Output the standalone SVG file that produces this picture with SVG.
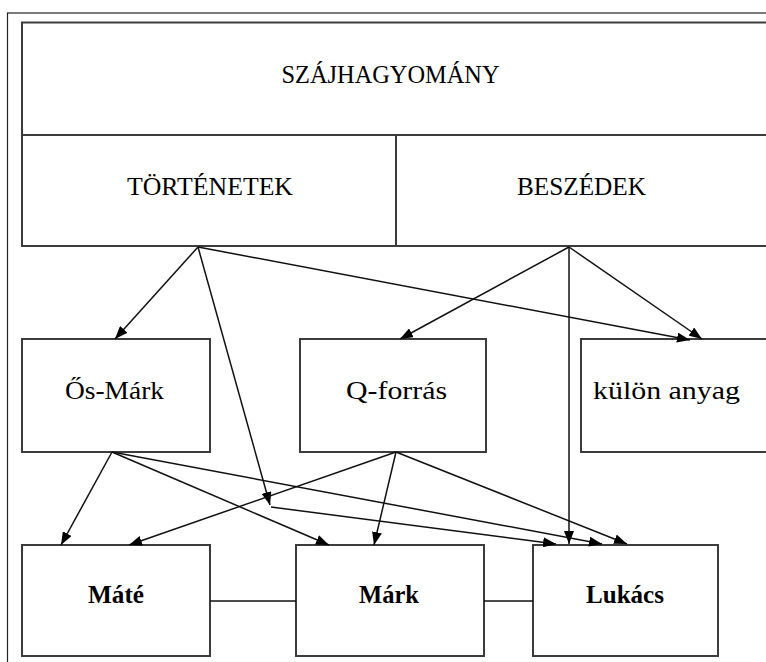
<svg xmlns="http://www.w3.org/2000/svg" width="766" height="662" viewBox="0 0 766 662">
<defs>
<style>
.box{fill:#fff;stroke:#3c3c3c;stroke-width:2}
.frame{fill:none;stroke:#222;stroke-width:1.2}
.lbl{font-family:"Liberation Serif","Times New Roman",serif;font-size:25px;fill:#000}
.b{font-weight:bold}
.arr{fill:none;stroke:#111;stroke-width:1.5;marker-end:url(#ah)}
.ln{fill:none;stroke:#111;stroke-width:1.5}
</style>
<marker id="ah" viewBox="0 0 13 10" refX="13" refY="5" markerWidth="13" markerHeight="10" markerUnits="userSpaceOnUse" orient="auto">
<path d="M0,0 L13,5 L0,10 z" fill="#000"/>
</marker>
</defs>
<rect width="766" height="662" fill="#fff"/>
<rect class="frame" x="7.5" y="13" width="780" height="670"/>

<g id="szajhagyomany">
<rect class="box" x="22" y="22.5" width="760" height="112.5"/>
<text class="lbl" x="281.5" y="83" textLength="218" lengthAdjust="spacingAndGlyphs">SZÁJHAGYOMÁNY</text>
</g>
<g id="tortenetek">
<rect class="box" x="22" y="135" width="374" height="111"/>
<text class="lbl" x="127" y="195" textLength="166" lengthAdjust="spacingAndGlyphs">TÖRTÉNETEK</text>
</g>
<g id="beszedek">
<rect class="box" x="396" y="135" width="386" height="111"/>
<text class="lbl" x="517" y="195" textLength="129" lengthAdjust="spacingAndGlyphs">BESZÉDEK</text>
</g>
<g id="os-mark">
<rect class="box" x="22" y="339" width="188" height="113"/>
<text class="lbl" x="65" y="399" textLength="99" lengthAdjust="spacingAndGlyphs">Ős-Márk</text>
</g>
<g id="q-forras">
<rect class="box" x="300" y="339" width="186" height="113"/>
<text class="lbl" x="346" y="399" textLength="101" lengthAdjust="spacingAndGlyphs">Q-forrás</text>
</g>
<g id="kulon-anyag">
<rect class="box" x="581" y="339" width="200" height="113"/>
<text class="lbl" x="593" y="399" textLength="147" lengthAdjust="spacingAndGlyphs">külön anyag</text>
</g>
<g id="mate">
<rect class="box" x="22" y="545" width="188" height="111"/>
<text class="lbl b" x="88" y="603" textLength="56" lengthAdjust="spacingAndGlyphs">Máté</text>
</g>
<g id="mark">
<rect class="box" x="296" y="545" width="188" height="111"/>
<text class="lbl b" x="359" y="603" textLength="60" lengthAdjust="spacingAndGlyphs">Márk</text>
</g>
<g id="lukacs">
<rect class="box" x="533" y="545" width="185" height="111"/>
<text class="lbl b" x="586" y="603" textLength="78" lengthAdjust="spacingAndGlyphs">Lukács</text>
</g>

<g id="connectors">
<path class="arr" d="M198,247 L115,339"/>
<path class="arr" d="M198,247 L270,505"/>
<path class="arr" d="M271,507 L556,544"/>
<path class="arr" d="M198,247 L690,340"/>
<path class="arr" d="M569,247 L400,339"/>
<path class="arr" d="M569,247 L702,339"/>
<path class="arr" d="M569,247 L569,544"/>
<path class="arr" d="M112,452 L61,545"/>
<path class="arr" d="M112,452 L329,545"/>
<path class="arr" d="M112,452 L602,544"/>
<path class="arr" d="M396,452 L129,545"/>
<path class="arr" d="M396,452 L374,545"/>
<path class="arr" d="M396,452 L627,544"/>
<path class="ln" d="M210,601 L296,601"/>
<path class="ln" d="M484,601 L533,601"/>
</g>
</svg>
